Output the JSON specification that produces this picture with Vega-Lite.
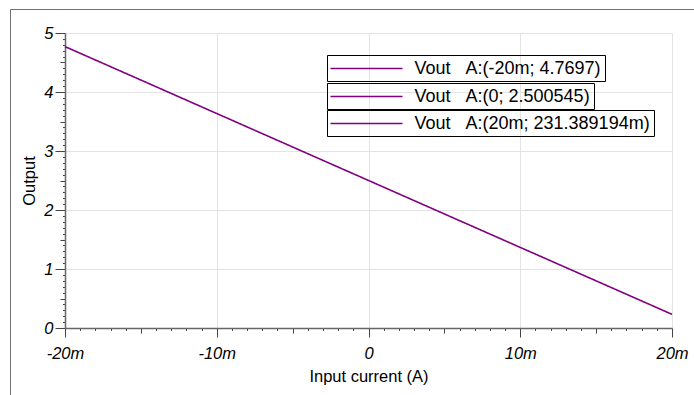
{
  "$schema": "https://vega.github.io/schema/vega-lite/v6.json",
  "width": 607,
  "height": 295,
  "autosize": {"type": "none"},
  "padding": {"left": 65, "top": 33, "right": 22, "bottom": 67},
  "background": "white",
  "config": {"view": {"stroke": null}},
  "data": {
    "values": [
      {"I": -0.02, "V": 4.7697},
      {"I": -0.015, "V": 4.203},
      {"I": -0.01, "V": 3.635},
      {"I": -0.005, "V": 3.068},
      {"I": 0, "V": 2.500545},
      {"I": 0.005, "V": 1.933},
      {"I": 0.01, "V": 1.366},
      {"I": 0.015, "V": 0.799},
      {"I": 0.02, "V": 0.231389}
    ]
  },
  "mark": {"type": "line", "clip": false, "strokeWidth": 1.6},
  "encoding": {
    "x": {
      "field": "I",
      "type": "quantitative",
      "scale": {"domain": [-0.02, 0.02], "nice": false, "zero": false},
      "axis": {
        "title": "Input current (A)",
        "titleFont": "Liberation Sans",
        "titleFontSize": 16.5,
        "titleFontWeight": "normal",
        "titleColor": "#000000",
        "titlePadding": 7,
        "values": [-0.02,-0.019,-0.018,-0.017,-0.016,-0.015,-0.014,-0.013,-0.012,-0.011,-0.01,-0.009,-0.008,-0.007,-0.006,-0.005,-0.004,-0.003,-0.002,-0.001,0,0.001,0.002,0.003,0.004,0.005,0.006,0.007,0.008,0.009,0.01,0.011,0.012,0.013,0.014,0.015,0.016,0.017,0.018,0.019,0.02],
        "labelExpr": "round(datum.value*1000) % 10 === 0 ? (round(datum.value*1000) === 0 ? '0' : round(datum.value*1000) + 'm') : ''",
        "labelFont": "Liberation Sans",
        "labelFontSize": 16.5,
        "labelFontStyle": "italic",
        "labelColor": "#000000",
        "labelPadding": 8,
        "labelFlush": false,
        "labelOverlap": false,
        "domainColor": "#666666",
        "domainWidth": 1.5,
        "tickColor": "#444444",
        "tickWidth": 1,
        "tickSize": {"condition": [{"test": "round(datum.value*1000) % 10 === 0", "value": 9}, {"test": "round(datum.value*1000) % 5 === 0", "value": 5}], "value": 2.5},
        "grid": true,
        "gridColor": "#e3e3e3",
        "gridWidth": 1,
        "gridOpacity": {"condition": {"test": "round(datum.value*1000) % 10 === 0", "value": 1}, "value": 0}
      }
    },
    "y": {
      "field": "V",
      "type": "quantitative",
      "scale": {"domain": [0, 5], "nice": false},
      "axis": {
        "title": "Output",
        "titleFont": "Liberation Sans",
        "titleFontSize": 16.5,
        "titleFontWeight": "normal",
        "titleColor": "#000000",
        "titlePadding": 6,
        "values": [0,0.1,0.2,0.3,0.4,0.5,0.6,0.7,0.8,0.9,1,1.1,1.2,1.3,1.4,1.5,1.6,1.7,1.8,1.9,2,2.1,2.2,2.3,2.4,2.5,2.6,2.7,2.8,2.9,3,3.1,3.2,3.3,3.4,3.5,3.6,3.7,3.8,3.9,4,4.1,4.2,4.3,4.4,4.5,4.6,4.7,4.8,4.9,5],
        "labelExpr": "abs(datum.value - round(datum.value)) < 0.000001 ? '' + round(datum.value) : ''",
        "labelFont": "Liberation Sans",
        "labelFontSize": 16.5,
        "labelFontStyle": "italic",
        "labelColor": "#000000",
        "labelPadding": 2,
        "labelFlush": false,
        "labelOverlap": false,
        "domainColor": "#666666",
        "domainWidth": 1.5,
        "tickColor": "#444444",
        "tickWidth": 1,
        "tickSize": {"condition": [{"test": "abs(datum.value - round(datum.value)) < 0.000001", "value": 10}, {"test": "abs(datum.value*2 - round(datum.value*2)) < 0.000001", "value": 5}], "value": 2.5},
        "grid": true,
        "gridColor": "#e3e3e3",
        "gridWidth": 1,
        "gridOpacity": {"condition": {"test": "abs(datum.value - round(datum.value)) < 0.000001", "value": 1}, "value": 0}
      }
    },
    "stroke": {
      "datum": "Vout\u00a0\u00a0\u00a0A:(-20m; 4.7697)",
      "type": "nominal",
      "scale": {"range": ["#800080"]},
      "legend": {"title": null, "orient": "none", "legendX": 262, "legendY": 22, "strokeColor": "#000000", "padding": 3.5, "cornerRadius": 0, "symbolType": "M-4,0H4", "symbolSize": 324, "symbolOffset": 26, "symbolStrokeWidth": 1.5, "labelFont": "Liberation Sans", "labelFontSize": 18, "labelColor": "#000000", "labelOffset": 38, "labelLimit": 0}
    },
    "strokeDash": {
      "datum": "Vout\u00a0\u00a0\u00a0A:(0; 2.500545)",
      "type": "nominal",
      "scale": {"range": [[1, 0]]},
      "legend": {"title": null, "orient": "none", "legendX": 262, "legendY": 50, "strokeColor": "#000000", "padding": 3.5, "cornerRadius": 0, "symbolType": "M-4,0H4", "symbolSize": 324, "symbolOffset": 26, "symbolStrokeWidth": 1.5, "symbolStrokeColor": "#800080", "labelFont": "Liberation Sans", "labelFontSize": 18, "labelColor": "#000000", "labelOffset": 38, "labelLimit": 0}
    },
    "strokeWidth": {
      "datum": "Vout\u00a0\u00a0\u00a0A:(20m; 231.389194m)",
      "type": "ordinal",
      "scale": {"range": [1.6, 1.6]},
      "legend": {"title": null, "orient": "none", "legendX": 262, "legendY": 77, "strokeColor": "#000000", "padding": 3.5, "cornerRadius": 0, "symbolType": "M-4,0H4", "symbolSize": 324, "symbolOffset": 26, "symbolStrokeColor": "#800080", "labelFont": "Liberation Sans", "labelFontSize": 18, "labelColor": "#000000", "labelOffset": 38, "labelLimit": 0}
    },
    "opacity": {
      "datum": "frame",
      "type": "ordinal",
      "scale": {"range": [1, 1]},
      "legend": {"title": null, "orient": "none", "legendX": -55, "legendY": -24, "strokeColor": "#707070", "padding": 345, "cornerRadius": 0, "symbolSize": 0, "symbolOpacity": 0, "labelOpacity": 0, "labelFontSize": 1, "labelOffset": 0, "labelExpr": "''"}
    }
  }
}
